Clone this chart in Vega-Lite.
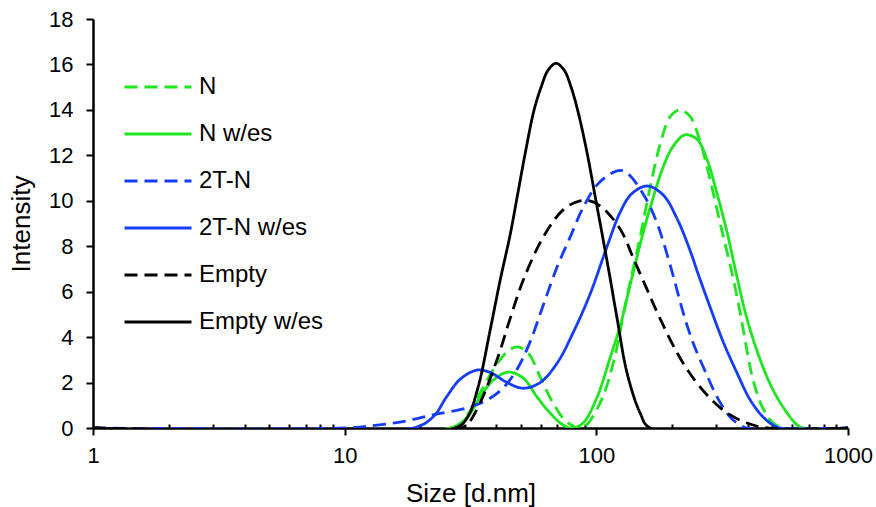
{
  "$schema": "https://vega.github.io/schema/vega-lite/v6.json",
  "width": 755,
  "height": 409,
  "autosize": "none",
  "padding": {"left": 93, "top": 19, "right": 28, "bottom": 79},
  "background": "white",
  "config": {"font": "Liberation Sans", "view": {"stroke": null}},
  "datasets": {
    "dls": [
      {"s": 1, "v": 0, "g": "N"}, {"s": 27, "v": 0, "g": "N"}, {"s": 30.7, "v": 0.57, "g": "N"}, {"s": 34.5, "v": 1.54, "g": "N"}, {"s": 38.9, "v": 2.55, "g": "N"}, {"s": 44.2, "v": 3.35, "g": "N"}, {"s": 48.5, "v": 3.57, "g": "N"}, {"s": 53.6, "v": 3.3, "g": "N"}, {"s": 59.8, "v": 2.25, "g": "N"}, {"s": 67.3, "v": 1.1, "g": "N"}, {"s": 76.5, "v": 0.26, "g": "N"}, {"s": 87.8, "v": 0, "g": "N"}, {"s": 103.5, "v": 1.1, "g": "N"}, {"s": 116.7, "v": 2.86, "g": "N"}, {"s": 132.5, "v": 5.8, "g": "N"}, {"s": 149.3, "v": 8.4, "g": "N"}, {"s": 163.7, "v": 10.6, "g": "N"}, {"s": 179.4, "v": 12.5, "g": "N"}, {"s": 196.5, "v": 13.7, "g": "N"}, {"s": 215, "v": 14.0, "g": "N"}, {"s": 236, "v": 13.7, "g": "N"}, {"s": 258.6, "v": 12.6, "g": "N"}, {"s": 283.6, "v": 10.9, "g": "N"}, {"s": 310.6, "v": 9.0, "g": "N"}, {"s": 349.6, "v": 6.6, "g": "N"}, {"s": 373, "v": 5.06, "g": "N"}, {"s": 397, "v": 3.4, "g": "N"}, {"s": 420, "v": 2.1, "g": "N"}, {"s": 460, "v": 0.85, "g": "N"}, {"s": 504, "v": 0.22, "g": "N"}, {"s": 562, "v": 0, "g": "N"}, {"s": 1000, "v": 0, "g": "N"},

      {"s": 1, "v": 0, "g": "N w/es"}, {"s": 26.2, "v": 0, "g": "N w/es"}, {"s": 30.7, "v": 0.48, "g": "N w/es"}, {"s": 34.5, "v": 1.36, "g": "N w/es"}, {"s": 38.9, "v": 2.1, "g": "N w/es"}, {"s": 44.6, "v": 2.46, "g": "N w/es"}, {"s": 51.2, "v": 2.2, "g": "N w/es"}, {"s": 58.2, "v": 1.36, "g": "N w/es"}, {"s": 65.5, "v": 0.66, "g": "N w/es"}, {"s": 73.8, "v": 0.13, "g": "N w/es"}, {"s": 80.1, "v": 0, "g": "N w/es"}, {"s": 88.6, "v": 0.22, "g": "N w/es"}, {"s": 100.7, "v": 1.36, "g": "N w/es"}, {"s": 113.5, "v": 3.1, "g": "N w/es"}, {"s": 124.4, "v": 4.5, "g": "N w/es"}, {"s": 136.3, "v": 6.3, "g": "N w/es"}, {"s": 153.5, "v": 8.6, "g": "N w/es"}, {"s": 163.7, "v": 9.7, "g": "N w/es"}, {"s": 184.5, "v": 11.5, "g": "N w/es"}, {"s": 202, "v": 12.4, "g": "N w/es"}, {"s": 225, "v": 12.9, "g": "N w/es"}, {"s": 251.6, "v": 12.7, "g": "N w/es"}, {"s": 275.7, "v": 11.8, "g": "N w/es"}, {"s": 302, "v": 10.3, "g": "N w/es"}, {"s": 331, "v": 8.6, "g": "N w/es"}, {"s": 363, "v": 6.6, "g": "N w/es"}, {"s": 397, "v": 4.8, "g": "N w/es"}, {"s": 448, "v": 3.0, "g": "N w/es"}, {"s": 504, "v": 1.67, "g": "N w/es"}, {"s": 573, "v": 0.66, "g": "N w/es"}, {"s": 629, "v": 0.13, "g": "N w/es"}, {"s": 664, "v": 0, "g": "N w/es"}, {"s": 1000, "v": 0, "g": "N w/es"},

      {"s": 1, "v": 0, "g": "2T-N"}, {"s": 10, "v": 0, "g": "2T-N"}, {"s": 13.45, "v": 0.13, "g": "2T-N"}, {"s": 16.6, "v": 0.26, "g": "2T-N"}, {"s": 19.9, "v": 0.45, "g": "2T-N"}, {"s": 23.9, "v": 0.64, "g": "2T-N"}, {"s": 30.6, "v": 0.88, "g": "2T-N"}, {"s": 36.8, "v": 1.23, "g": "2T-N"}, {"s": 42.6, "v": 1.76, "g": "2T-N"}, {"s": 48.5, "v": 2.6, "g": "2T-N"}, {"s": 54.6, "v": 3.8, "g": "2T-N"}, {"s": 61.5, "v": 5.4, "g": "2T-N"}, {"s": 69.9, "v": 7.1, "g": "2T-N"}, {"s": 78.7, "v": 8.4, "g": "2T-N"}, {"s": 88.6, "v": 9.7, "g": "2T-N"}, {"s": 100.7, "v": 10.7, "g": "2T-N"}, {"s": 116.7, "v": 11.25, "g": "2T-N"}, {"s": 126.7, "v": 11.33, "g": "2T-N"}, {"s": 136.3, "v": 11.1, "g": "2T-N"}, {"s": 159.2, "v": 10.0, "g": "2T-N"}, {"s": 174.5, "v": 9.0, "g": "2T-N"}, {"s": 184.5, "v": 8.2, "g": "2T-N"}, {"s": 202, "v": 6.7, "g": "2T-N"}, {"s": 221, "v": 5.1, "g": "2T-N"}, {"s": 242.5, "v": 3.74, "g": "2T-N"}, {"s": 275.7, "v": 2.3, "g": "2T-N"}, {"s": 302, "v": 1.36, "g": "2T-N"}, {"s": 340, "v": 0.48, "g": "2T-N"}, {"s": 373, "v": 0.13, "g": "2T-N"}, {"s": 397, "v": 0, "g": "2T-N"}, {"s": 1000, "v": 0, "g": "2T-N"},

      {"s": 1, "v": 0, "g": "2T-N w/es"}, {"s": 18.7, "v": 0, "g": "2T-N w/es"}, {"s": 22.5, "v": 0.5, "g": "2T-N w/es"}, {"s": 25.5, "v": 1.4, "g": "2T-N w/es"}, {"s": 28.8, "v": 2.15, "g": "2T-N w/es"}, {"s": 33.6, "v": 2.55, "g": "2T-N w/es"}, {"s": 37.8, "v": 2.45, "g": "2T-N w/es"}, {"s": 44.2, "v": 2.0, "g": "2T-N w/es"}, {"s": 51.2, "v": 1.75, "g": "2T-N w/es"}, {"s": 59.8, "v": 2.0, "g": "2T-N w/es"}, {"s": 69.9, "v": 2.86, "g": "2T-N w/es"}, {"s": 80.9, "v": 4.2, "g": "2T-N w/es"}, {"s": 94.5, "v": 5.9, "g": "2T-N w/es"}, {"s": 110.4, "v": 8.0, "g": "2T-N w/es"}, {"s": 124.4, "v": 9.5, "g": "2T-N w/es"}, {"s": 138, "v": 10.3, "g": "2T-N w/es"}, {"s": 159.2, "v": 10.65, "g": "2T-N w/es"}, {"s": 184.5, "v": 10.25, "g": "2T-N w/es"}, {"s": 209.6, "v": 9.2, "g": "2T-N w/es"}, {"s": 236, "v": 7.8, "g": "2T-N w/es"}, {"s": 251.6, "v": 6.9, "g": "2T-N w/es"}, {"s": 283.6, "v": 5.3, "g": "2T-N w/es"}, {"s": 319, "v": 3.8, "g": "2T-N w/es"}, {"s": 363, "v": 2.4, "g": "2T-N w/es"}, {"s": 408, "v": 1.25, "g": "2T-N w/es"}, {"s": 460, "v": 0.48, "g": "2T-N w/es"}, {"s": 504, "v": 0.13, "g": "2T-N w/es"}, {"s": 538, "v": 0, "g": "2T-N w/es"}, {"s": 1000, "v": 0, "g": "2T-N w/es"},

      {"s": 1, "v": 0, "g": "Empty"}, {"s": 28.8, "v": 0, "g": "Empty"}, {"s": 30.7, "v": 0.15, "g": "Empty"}, {"s": 34.5, "v": 1.1, "g": "Empty"}, {"s": 40.3, "v": 3.0, "g": "Empty"}, {"s": 45.4, "v": 4.8, "g": "Empty"}, {"s": 51.2, "v": 6.5, "g": "Empty"}, {"s": 61.5, "v": 8.4, "g": "Empty"}, {"s": 73.8, "v": 9.6, "g": "Empty"}, {"s": 86.2, "v": 10.0, "g": "Empty"}, {"s": 97.1, "v": 9.95, "g": "Empty"}, {"s": 110.4, "v": 9.5, "g": "Empty"}, {"s": 126.7, "v": 8.6, "g": "Empty"}, {"s": 140, "v": 7.5, "g": "Empty"}, {"s": 159, "v": 6.1, "g": "Empty"}, {"s": 179.4, "v": 4.8, "g": "Empty"}, {"s": 209.6, "v": 3.3, "g": "Empty"}, {"s": 242.5, "v": 2.2, "g": "Empty"}, {"s": 283.6, "v": 1.3, "g": "Empty"}, {"s": 331, "v": 0.66, "g": "Empty"}, {"s": 397, "v": 0.22, "g": "Empty"}, {"s": 477, "v": 0, "g": "Empty"}, {"s": 1000, "v": 0, "g": "Empty"},

      {"s": 1, "v": 0, "g": "Empty w/es"}, {"s": 27.47, "v": 0, "g": "Empty w/es"}, {"s": 30.65, "v": 0.44, "g": "Empty w/es"}, {"s": 33.9, "v": 1.8, "g": "Empty w/es"}, {"s": 37.84, "v": 4.3, "g": "Empty w/es"}, {"s": 41.47, "v": 6.5, "g": "Empty w/es"}, {"s": 45.44, "v": 8.5, "g": "Empty w/es"}, {"s": 48.89, "v": 10.4, "g": "Empty w/es"}, {"s": 52.6, "v": 12.3, "g": "Empty w/es"}, {"s": 56.59, "v": 14.0, "g": "Empty w/es"}, {"s": 60.34, "v": 15.0, "g": "Empty w/es"}, {"s": 64.33, "v": 15.75, "g": "Empty w/es"}, {"s": 69.22, "v": 16.05, "g": "Empty w/es"}, {"s": 74.47, "v": 15.75, "g": "Empty w/es"}, {"s": 79.4, "v": 15.0, "g": "Empty w/es"}, {"s": 84.67, "v": 13.9, "g": "Empty w/es"}, {"s": 91.91, "v": 12.1, "g": "Empty w/es"}, {"s": 98.9, "v": 10.2, "g": "Empty w/es"}, {"s": 106.4, "v": 8.3, "g": "Empty w/es"}, {"s": 113.4, "v": 6.6, "g": "Empty w/es"}, {"s": 121, "v": 4.8, "g": "Empty w/es"}, {"s": 132.6, "v": 2.4, "g": "Empty w/es"}, {"s": 149.3, "v": 0.66, "g": "Empty w/es"}, {"s": 163.7, "v": 0, "g": "Empty w/es"}, {"s": 1000, "v": 0, "g": "Empty w/es"}
    ]
  },
  "data": {"name": "dls"},
  "mark": {"type": "line", "interpolate": "catmull-rom", "strokeWidth": 2.8, "clip": true},
  "encoding": {
    "x": {
      "field": "s",
      "type": "quantitative",
      "scale": {"type": "log", "domain": [1, 1000], "nice": false},
      "axis": {
        "title": "Size [d.nm]",
        "values": [1, 2, 3, 4, 5, 6, 7, 8, 9, 10, 20, 30, 40, 50, 60, 70, 80, 90, 100, 200, 300, 400, 500, 600, 700, 800, 900, 1000],
        "labelExpr": "(datum.value == 1 || datum.value == 10 || datum.value == 100 || datum.value == 1000) ? datum.value : ''",
        "tickSize": {"condition": {"test": "datum.value == 1 || datum.value == 10 || datum.value == 100 || datum.value == 1000", "value": 7}, "value": -4},
        "labelPadding": 10,
        "labelFontSize": 22,
        "labelColor": "black",
        "labelFlush": false,
        "labelOverlap": false,
        "titleFontSize": 26,
        "titleFontWeight": "normal",
        "titleColor": "black",
        "titlePadding": 14,
        "domainColor": "black",
        "domainWidth": 2.5,
        "tickColor": "black",
        "tickWidth": 2,
        "grid": false
      }
    },
    "y": {
      "field": "v",
      "type": "quantitative",
      "scale": {"domain": [0, 18], "nice": false},
      "axis": {
        "title": "Intensity",
        "values": [0, 2, 4, 6, 8, 10, 12, 14, 16, 18],
        "tickSize": 7,
        "labelPadding": 13,
        "labelFontSize": 22,
        "labelColor": "black",
        "labelFlush": false,
        "titleFontSize": 26,
        "titleFontWeight": "normal",
        "titleColor": "black",
        "titlePadding": 14,
        "domainColor": "black",
        "domainWidth": 2.5,
        "tickColor": "black",
        "tickWidth": 2,
        "grid": false
      }
    },
    "color": {
      "field": "g",
      "type": "nominal",
      "scale": {
        "domain": ["N", "N w/es", "2T-N", "2T-N w/es", "Empty", "Empty w/es"],
        "range": ["#1ee61e", "#1ee61e", "#143cfa", "#143cfa", "#000000", "#000000"]
      },
      "legend": {
        "orient": "none",
        "legendX": 30,
        "legendY": 33,
        "title": null,
        "symbolType": "stroke",
        "symbolSize": 4489,
        "symbolStrokeWidth": 2.8,
        "labelFontSize": 24,
        "labelColor": "black",
        "labelOffset": 6,
        "rowPadding": -18,
        "padding": 0
      }
    },
    "strokeDash": {
      "field": "g",
      "type": "nominal",
      "scale": {
        "domain": ["N", "N w/es", "2T-N", "2T-N w/es", "Empty", "Empty w/es"],
        "range": [[13, 7], [1, 0], [13, 7], [1, 0], [13, 7], [1, 0]]
      },
      "legend": {
        "orient": "none",
        "legendX": 30,
        "legendY": 33,
        "title": null,
        "symbolType": "stroke",
        "symbolSize": 4489,
        "symbolStrokeWidth": 2.8,
        "labelFontSize": 24,
        "labelColor": "black",
        "labelOffset": 6,
        "rowPadding": -18,
        "padding": 0
      }
    }
  }
}
